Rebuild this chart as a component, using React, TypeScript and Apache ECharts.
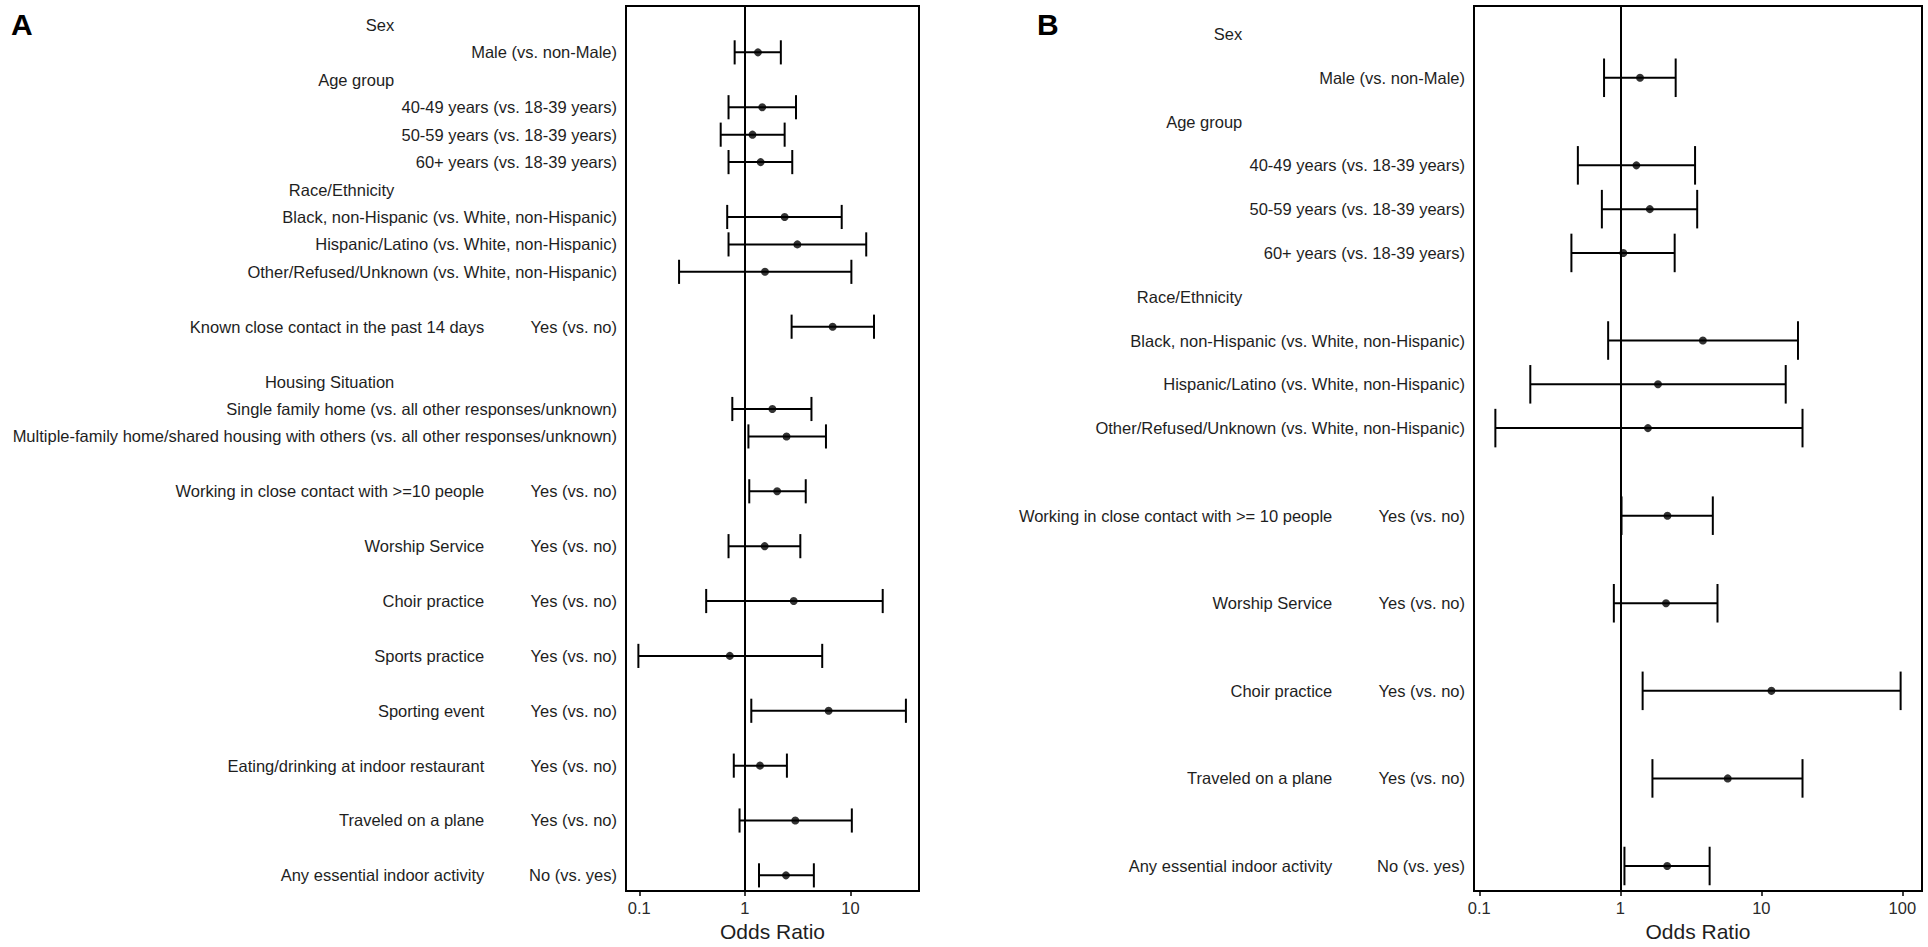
import React, { useEffect, useRef } from "react";
import * as echarts from "echarts";

// ---------------- Panel A data (rows top to bottom) ----------------
const aHeaders = [
  "Sex", "", "Age group", "", "", "", "Race/Ethnicity", "", "", "", "",
  "", "", "Housing Situation", "", "", "", "", "", "", "", "", "", "", "",
  "", "", "", "", "", "", "",
];
const aNames = [
  "", "", "", "", "", "", "", "", "", "", "",
  "Known close contact in the past 14 days", "", "", "", "", "",
  "Working in close contact with >=10 people", "", "Worship Service", "",
  "Choir practice", "", "Sports practice", "", "Sporting event", "",
  "Eating/drinking at indoor restaurant", "", "Traveled on a plane", "",
  "Any essential indoor activity",
];
const aLevels = [
  "", "Male (vs. non-Male)", "", "40-49 years (vs. 18-39 years)",
  "50-59 years (vs. 18-39 years)", "60+ years (vs. 18-39 years)", "",
  "Black, non-Hispanic (vs. White, non-Hispanic)",
  "Hispanic/Latino (vs. White, non-Hispanic)",
  "Other/Refused/Unknown (vs. White, non-Hispanic)", "",
  "Yes (vs. no)", "", "",
  "Single family home (vs. all other responses/unknown)",
  "Multiple-family home/shared housing with others (vs. all other responses/unknown)",
  "", "Yes (vs. no)", "", "Yes (vs. no)", "", "Yes (vs. no)", "", "Yes (vs. no)",
  "", "Yes (vs. no)", "", "Yes (vs. no)", "", "Yes (vs. no)", "", "No (vs. yes)",
];
const aOR = [
  null, 1.33, null, 1.46, 1.18, 1.41, null, 2.38, 3.14, 1.55, null,
  6.78, null, null, 1.82, 2.48, null, 2.02, null, 1.54, null, 2.9, null,
  0.72, null, 6.21, null, 1.39, null, 3.0, null, 2.45,
];
const aLow = [
  null, 0.8, null, 0.7, 0.59, 0.7, null, 0.68, 0.7, 0.238, null,
  2.77, null, null, 0.76, 1.08, null, 1.1, null, 0.7, null, 0.43, null,
  0.098, null, 1.15, null, 0.785, null, 0.89, null, 1.36,
];
const aHigh = [
  null, 2.19, null, 3.05, 2.38, 2.81, null, 8.26, 14.1, 10.2, null,
  16.7, null, null, 4.27, 5.86, null, 3.77, null, 3.35, null, 20.2, null,
  5.4, null, 33.5, null, 2.5, null, 10.3, null, 4.5,
];
const aTicks = [0.1, 1, 10];

// ---------------- Panel B data ----------------
const bHeaders = [
  "Sex", "", "Age group", "", "", "", "Race/Ethnicity", "", "", "", "",
  "", "", "", "", "", "", "", "", "",
];
const bNames = [
  "", "", "", "", "", "", "", "", "", "", "",
  "Working in close contact with >= 10 people", "", "Worship Service", "",
  "Choir practice", "", "Traveled on a plane", "", "Any essential indoor activity",
];
const bLevels = [
  "", "Male (vs. non-Male)", "", "40-49 years (vs. 18-39 years)",
  "50-59 years (vs. 18-39 years)", "60+ years (vs. 18-39 years)", "",
  "Black, non-Hispanic (vs. White, non-Hispanic)",
  "Hispanic/Latino (vs. White, non-Hispanic)",
  "Other/Refused/Unknown (vs. White, non-Hispanic)", "",
  "Yes (vs. no)", "", "Yes (vs. no)", "", "Yes (vs. no)", "", "Yes (vs. no)", "",
  "No (vs. yes)",
];
const bOR = [
  null, 1.38, null, 1.3, 1.62, 1.05, null, 3.85, 1.85, 1.57, null,
  2.16, null, 2.11, null, 11.8, null, 5.78, null, 2.15,
];
const bLow = [
  null, 0.767, null, 0.5, 0.74, 0.45, null, 0.82, 0.23, 0.13, null,
  1.02, null, 0.9, null, 1.44, null, 1.69, null, 1.07,
];
const bHigh = [
  null, 2.47, null, 3.39, 3.51, 2.43, null, 18.2, 14.9, 19.6, null,
  4.53, null, 4.89, null, 97.3, null, 19.6, null, 4.3,
];
const bTicks = [0.1, 1, 10, 100];

const FONT = "'Liberation Sans', Arial, Helvetica, sans-serif";
const TEXT = "#1e1e1e";

const lg = (v: number) => Math.log10(v);

function buildPanel(
  gi: number,
  yBase: number,
  headers: string[],
  names: string[],
  levels: string[],
  or: (number | null)[],
  low: (number | null)[],
  high: (number | null)[],
  ticks: number[],
  xMin: number,
  xMax: number,
  yMin: number,
  yMax: number
) {
  const idx = levels.map((_, i) => i);
  const mkY = (labels: string[], offset: number) => ({
    type: "value",
    gridIndex: gi,
    inverse: true,
    min: yMin,
    max: yMax,
    position: "left",
    offset,
    axisLine: { show: false, onZero: false },
    axisTick: { show: false },
    splitLine: { show: false },
    axisLabel: {
      customValues: idx,
      margin: 9,
      fontFamily: FONT,
      fontSize: 16.5,
      color: TEXT,
      formatter: (v: number) => labels[Math.round(v)] || "",
    },
  });
  const yAxes = [mkY(levels, 0), mkY(names, 132.7), mkY(headers, 222.7)];
  const tickVals = ticks.map(lg);
  const xAxis = {
    type: "value",
    gridIndex: gi,
    position: "bottom",
    min: xMin,
    max: xMax,
    name: "Odds Ratio",
    nameLocation: "middle",
    nameGap: 28,
    nameTextStyle: { fontFamily: FONT, fontSize: 21, color: TEXT },
    axisLine: { show: true, onZero: false, lineStyle: { color: "#000", width: 2 } },
    axisTick: {
      show: true,
      customValues: tickVals,
      length: 5,
      lineStyle: { color: "#000", width: 1.5 },
    },
    splitLine: { show: false },
    axisLabel: {
      customValues: tickVals,
      margin: 8,
      fontFamily: FONT,
      fontSize: 16.5,
      color: "#2a2a2a",
      formatter: (v: number) => {
        const i = tickVals.findIndex((t) => Math.abs(t - v) < 1e-6);
        return i >= 0 ? String(ticks[i]) : "";
      },
    },
  };
  const barData: number[][] = [];
  const dotData: number[][] = [];
  or.forEach((v, i) => {
    if (v == null) return;
    barData.push([lg(low[i] as number), lg(high[i] as number), i]);
    dotData.push([lg(v), i]);
  });
  const series = [
    {
      type: "custom",
      xAxisIndex: gi,
      yAxisIndex: yBase,
      data: barData,
      encode: { x: [0, 1], y: 2 },
      silent: true,
      z: 3,
      renderItem: (params: any, api: any) => {
        const y = api.value(2);
        const a = api.coord([api.value(0), y]);
        const b = api.coord([api.value(1), y]);
        const h = api.size([0, 0.88])[1] / 2;
        const st = { stroke: "#000", lineWidth: 2 };
        return {
          type: "group",
          children: [
            { type: "line", shape: { x1: a[0], y1: a[1], x2: b[0], y2: b[1] }, style: st },
            { type: "line", shape: { x1: a[0], y1: a[1] - h, x2: a[0], y2: a[1] + h }, style: st },
            { type: "line", shape: { x1: b[0], y1: b[1] - h, x2: b[0], y2: b[1] + h }, style: st },
          ],
        };
      },
    },
    {
      type: "scatter",
      xAxisIndex: gi,
      yAxisIndex: yBase,
      data: dotData,
      symbol: "circle",
      symbolSize: 8,
      itemStyle: { color: "#000" },
      silent: true,
      z: 4,
      markLine: {
        silent: true,
        symbol: ["none", "none"],
        label: { show: false },
        lineStyle: { color: "#000", width: 2, type: "solid" },
        data: [{ xAxis: 0 }],
      },
    },
  ];
  return { yAxes, xAxis, series };
}

export default function App() {
  const ref = useRef<HTMLDivElement>(null);
  useEffect(() => {
    if (!ref.current) return;
    const chart = echarts.init(ref.current, undefined, { renderer: "svg" });
    const pa = buildPanel(0, 0, aHeaders, aNames, aLevels, aOR, aLow, aHigh, aTicks,
      -1.126, 1.649, -0.69, 31.57);
    const pb = buildPanel(1, 3, bHeaders, bNames, bLevels, bOR, bLow, bHigh, bTicks,
      -1.0376, 2.1397, -0.639, 19.571);
    chart.setOption({
      animation: false,
      backgroundColor: "#fff",
      grid: [
        { left: 626, top: 6, width: 293, height: 885, show: true, borderColor: "#000", borderWidth: 2, backgroundColor: "transparent" },
        { left: 1474, top: 6, width: 448, height: 885, show: true, borderColor: "#000", borderWidth: 2, backgroundColor: "transparent" },
      ],
      xAxis: [pa.xAxis, pb.xAxis],
      yAxis: [...pa.yAxes, ...pb.yAxes],
      series: [...pa.series, ...pb.series],
      graphic: [
        { type: "text", left: 11, top: 9, style: { text: "A", font: `bold 30px ${FONT}`, fill: "#000" } },
        { type: "text", left: 1037, top: 9, style: { text: "B", font: `bold 30px ${FONT}`, fill: "#000" } },
      ],
    });
    return () => chart.dispose();
  }, []);
  return (
    <div
      ref={ref}
      style={{ position: "fixed", left: 0, top: 0, width: 1928, height: 947, background: "#fff" }}
    />
  );
}
